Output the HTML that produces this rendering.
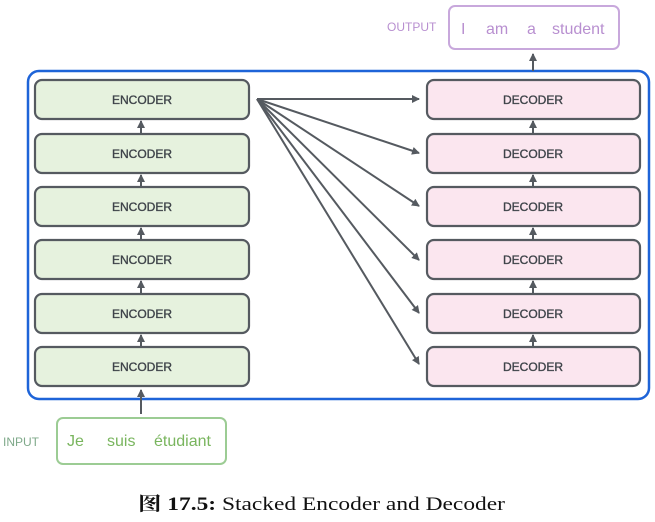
<!DOCTYPE html>
<html><head><meta charset="utf-8"><style>
body{margin:0;background:#fff;width:655px;height:517px;overflow:hidden}
</style></head><body>
<svg width="655" height="517" xmlns="http://www.w3.org/2000/svg" font-family="'Liberation Sans', sans-serif">
<defs><marker id="a" markerWidth="8" markerHeight="8" refX="7" refY="4" orient="auto" markerUnits="userSpaceOnUse"><path d="M0,0 L8,4 L0,8 z" fill="#555a60"/></marker></defs>
<rect x="28" y="71" width="621" height="328" rx="11" fill="none" stroke="#1e64d8" stroke-width="2.5"/>
<g stroke="#555a60" stroke-width="2" fill="none">
<line x1="141" y1="414" x2="141" y2="390" marker-end="url(#a)"/>
<line x1="533" y1="71" x2="533" y2="54" marker-end="url(#a)"/>
<line x1="141" y1="134" x2="141" y2="121" marker-end="url(#a)"/>
<line x1="141" y1="187" x2="141" y2="175" marker-end="url(#a)"/>
<line x1="141" y1="240" x2="141" y2="228" marker-end="url(#a)"/>
<line x1="141" y1="294" x2="141" y2="281" marker-end="url(#a)"/>
<line x1="141" y1="347" x2="141" y2="335" marker-end="url(#a)"/>
<line x1="533" y1="134" x2="533" y2="121" marker-end="url(#a)"/>
<line x1="533" y1="187" x2="533" y2="175" marker-end="url(#a)"/>
<line x1="533" y1="240" x2="533" y2="228" marker-end="url(#a)"/>
<line x1="533" y1="294" x2="533" y2="281" marker-end="url(#a)"/>
<line x1="533" y1="347" x2="533" y2="335" marker-end="url(#a)"/>
<line x1="257" y1="99" x2="419" y2="99" marker-end="url(#a)"/>
<line x1="257" y1="99" x2="419" y2="153" marker-end="url(#a)"/>
<line x1="257" y1="99" x2="419" y2="206" marker-end="url(#a)"/>
<line x1="257" y1="99" x2="419" y2="260" marker-end="url(#a)"/>
<line x1="257" y1="99" x2="419" y2="313" marker-end="url(#a)"/>
<line x1="257" y1="99" x2="419" y2="364" marker-end="url(#a)"/>
</g>
<g stroke="#555a60" stroke-width="2.2">
<g fill="#e6f2de"><rect x="35" y="80" width="214" height="39" rx="7"/><rect x="35" y="134" width="214" height="39" rx="7"/><rect x="35" y="187" width="214" height="39" rx="7"/><rect x="35" y="240" width="214" height="39" rx="7"/><rect x="35" y="294" width="214" height="39" rx="7"/><rect x="35" y="347" width="214" height="39" rx="7"/></g>
<g fill="#fbe6ef"><rect x="427" y="80" width="213" height="39" rx="7"/><rect x="427" y="134" width="213" height="39" rx="7"/><rect x="427" y="187" width="213" height="39" rx="7"/><rect x="427" y="240" width="213" height="39" rx="7"/><rect x="427" y="294" width="213" height="39" rx="7"/><rect x="427" y="347" width="213" height="39" rx="7"/></g>
</g>
<g font-size="12" text-anchor="middle" fill="#3f444a" stroke="#3f444a" stroke-width="0.35">
<text x="142" y="104">ENCODER</text><text x="142" y="158">ENCODER</text><text x="142" y="211">ENCODER</text><text x="142" y="264">ENCODER</text><text x="142" y="318">ENCODER</text><text x="142" y="371">ENCODER</text>
<text x="533" y="104">DECODER</text><text x="533" y="158">DECODER</text><text x="533" y="211">DECODER</text><text x="533" y="264">DECODER</text><text x="533" y="318">DECODER</text><text x="533" y="371">DECODER</text>
</g>
<rect x="449" y="6" width="170" height="43" rx="6" fill="#fff" stroke="#c8a8dc" stroke-width="2"/>
<text x="387" y="31" font-size="12" fill="#b88fd0">OUTPUT</text>
<g font-size="16" fill="#b88fd0"><text x="461" y="34">I</text><text x="486" y="34">am</text><text x="527" y="34">a</text><text x="552" y="34">student</text></g>
<rect x="57" y="418" width="169" height="46" rx="6" fill="#fff" stroke="#9ccc94" stroke-width="2"/>
<text x="3" y="446" font-size="12" fill="#7fa98a">INPUT</text>
<g font-size="16" fill="#79b55e"><text x="67" y="446">Je</text><text x="107" y="446">suis</text><text x="154" y="446">étudiant</text></g>
<text x="138" y="510" font-family="'Liberation Serif','Noto Serif CJK SC',serif" font-size="19" fill="#111" textLength="367" lengthAdjust="spacingAndGlyphs"><tspan font-weight="bold">图 17.5:</tspan> Stacked Encoder and Decoder</text>
</svg>
</body></html>
